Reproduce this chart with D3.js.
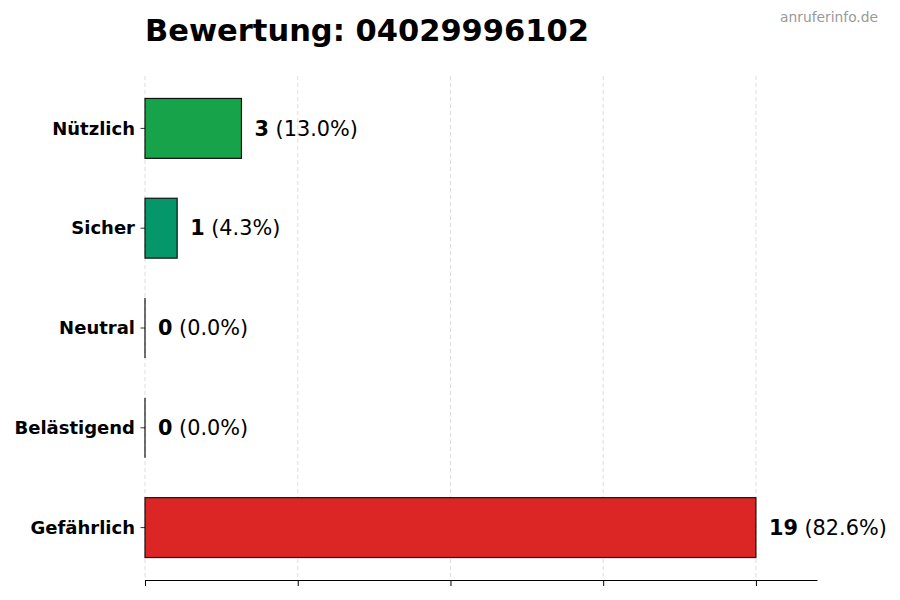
<!DOCTYPE html>
<html>
<head>
<meta charset="utf-8">
<script src="https://cdn.jsdelivr.net/npm/d3@7"></script>
<style>
  body { margin: 0; background: #fff; }
  text { font-family: "DejaVu Sans", sans-serif; }
</style>
</head>
<body>
<svg id="chart"></svg>
<script>
// data
const categories = ['Nützlich', 'Sicher', 'Neutral', 'Belästigend', 'Gefährlich'];
const counts = [3, 1, 0, 0, 19];
const percents = ['13.0%', '4.3%', '0.0%', '0.0%', '82.6%'];
const barColors = ['#16a34a', '#059669', '#9ca3af', '#ea580c', '#dc2626'];

const width = 900, height = 600;
const margin = {top: 76, right: 83, bottom: 20, left: 145};
const innerW = width - margin.left - margin.right;
const innerH = height - margin.top - margin.bottom;

const svg = d3.select('#chart')
  .attr('width', width)
  .attr('height', height);

const chart = svg.append('g')
  .attr('transform', `translate(${margin.left}, ${margin.top})`);

const maxVal = d3.max(counts);
const xScale = d3.scaleLinear()
  .domain([0, maxVal * 1.1])
  .range([0, innerW]);

// index scale, like a categorical y axis with a little margin
const yScale = d3.scaleLinear()
  .domain([-0.525, categories.length - 1 + 0.525])
  .range([0, innerH]);
const step = yScale(1) - yScale(0);
const barH = step * 0.6;

const tickVals = d3.range(5).map(i => maxVal * i / 4);

// dashed grid
chart.append('g')
  .selectAll('line')
  .data(tickVals)
  .join('line')
  .attr('x1', d => xScale(d))
  .attr('x2', d => xScale(d))
  .attr('y1', 0)
  .attr('y2', innerH)
  .attr('stroke', '#d4d4d4')
  .attr('stroke-width', 0.8)
  .attr('stroke-dasharray', '4,3');

// bars
chart.selectAll('.bar')
  .data(counts)
  .join('rect')
  .attr('class', 'bar')
  .attr('x', xScale(0))
  .attr('y', (d, i) => yScale(i) - barH / 2)
  .attr('width', d => xScale(d) - xScale(0))
  .attr('height', barH)
  .attr('fill', (d, i) => barColors[i])
  .attr('stroke', '#111')
  .attr('stroke-width', 1.2);

// zero-width bars still show their edge
chart.selectAll('.zero-edge')
  .data(counts.map((d, i) => ({d, i})).filter(o => o.d === 0))
  .join('line')
  .attr('class', 'zero-edge')
  .attr('x1', xScale(0))
  .attr('x2', xScale(0))
  .attr('y1', o => yScale(o.i) - barH / 2)
  .attr('y2', o => yScale(o.i) + barH / 2)
  .attr('stroke', '#111')
  .attr('stroke-width', 1.2);

// value labels
const labels = chart.selectAll('.val')
  .data(counts)
  .join('text')
  .attr('class', 'val')
  .attr('x', d => xScale(d) + 13)
  .attr('y', (d, i) => yScale(i))
  .attr('dy', '0.35em')
  .style('font-size', '20.8px')
  .attr('fill', '#000');
labels.append('tspan')
  .style('font-weight', 'bold')
  .text(d => d);
labels.append('tspan')
  .text((d, i) => ` (${percents[i]})`);

// y axis: tick marks and labels, no spine
const yAxis = chart.append('g');
yAxis.selectAll('line')
  .data(categories)
  .join('line')
  .attr('x1', -4.5)
  .attr('x2', 0)
  .attr('y1', (d, i) => yScale(i))
  .attr('y2', (d, i) => yScale(i))
  .attr('stroke', '#000')
  .attr('stroke-width', 0.8);
yAxis.selectAll('text')
  .data(categories)
  .join('text')
  .attr('x', -10)
  .attr('y', (d, i) => yScale(i))
  .attr('dy', '0.35em')
  .attr('text-anchor', 'end')
  .style('font-size', '18px')
  .style('font-weight', 'bold')
  .text(d => d);

// bottom axis without labels
const xAxis = d3.axisBottom(xScale)
  .tickValues(tickVals)
  .tickSizeInner(6)
  .tickSizeOuter(0)
  .tickFormat('');
const xGroup = chart.append('g')
  .attr('transform', `translate(0, ${innerH})`)
  .call(xAxis);
xGroup.select('.domain').attr('stroke-width', 1.2);
xGroup.selectAll('.tick line').attr('stroke-width', 1);

// title + watermark
svg.append('text')
  .attr('x', margin.left)
  .attr('y', 41)
  .style('font-size', '30.5px')
  .style('font-weight', 'bold')
  .text('Bewertung: 04029996102');

svg.append('text')
  .attr('x', 878)
  .attr('y', 22)
  .attr('text-anchor', 'end')
  .style('font-size', '13.8px')
  .attr('fill', '#999')
  .text('anruferinfo.de');
</script>
</body>
</html>
